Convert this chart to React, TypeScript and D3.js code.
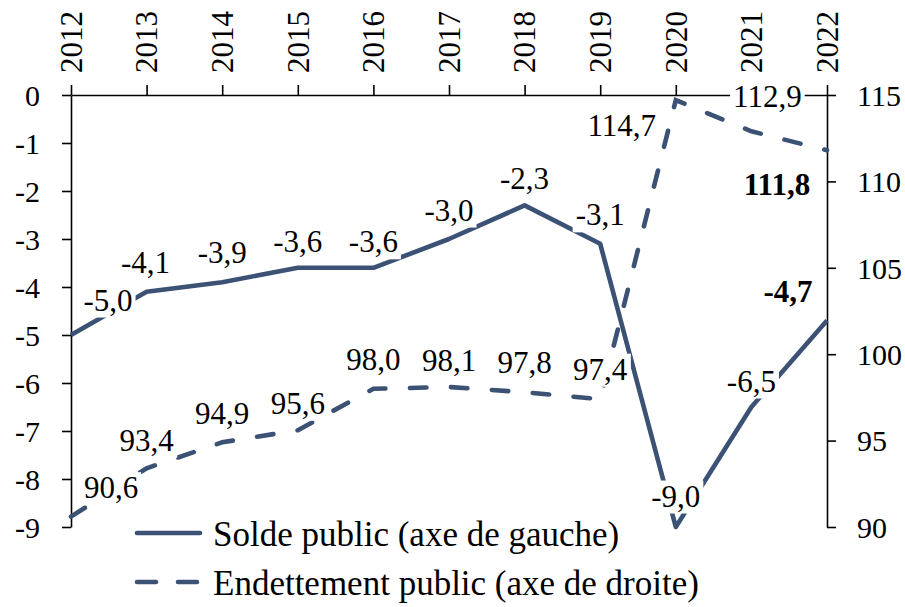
import React, { useEffect, useRef } from "react";
import * as d3 from "d3";

const years = ["2012", "2013", "2014", "2015", "2016", "2017", "2018", "2019", "2020", "2021", "2022"];
const solde = [-5.0, -4.1, -3.9, -3.6, -3.6, -3.0, -2.3, -3.1, -9.0, -6.5, -4.7];
const dette = [90.6, 93.4, 94.9, 95.6, 98.0, 98.1, 97.8, 97.4, 114.7, 112.9, 111.8];
const leftTicks = [0, -1, -2, -3, -4, -5, -6, -7, -8, -9];
const rightTicks = [90, 95, 100, 105, 110, 115];
const legendLabels = ["Solde public (axe de gauche)", "Endettement public (axe de droite)"];

// label offsets (layout only)
const soldeOffsets: [number, number][] = [
  [37, -35], [-1, -29], [0, -30], [0, -26], [0, -26], [0, -29], [0, -27], [0, -29], [0, -31], [0, -26], [-39, -29],
];
const detteOffsets: [number, number][] = [
  [40, -29], [0, -28], [0, -29], [0, -27], [0, -29], [0, -27], [0, -30], [0, -30], [-54, 25], [16, -35], [-50, 34],
];

const COLOR = "#3B5275";
const FONT = "'Liberation Serif', 'Times New Roman', serif";
const fmt = (v: number) => v.toFixed(1).replace(".", ",");

export default function App() {
  const ref = useRef<SVGSVGElement>(null);
  useEffect(() => {
    const svg = d3.select(ref.current);
    svg.selectAll("*").remove();
    const x = d3.scalePoint<string>().domain(years).range([71, 827]);
    const yL = d3.scaleLinear().domain([-9, 0]).range([527, 95]);
    const yR = d3.scaleLinear().domain([90, 115]).range([527, 95]);

    const axisStyle = (g: any) => {
      g.selectAll("path").attr("stroke", "#000").attr("stroke-width", 1.6);
      g.selectAll("line").attr("stroke", "#000").attr("stroke-width", 1.6);
      g.selectAll("text").attr("font-family", FONT).attr("font-size", 30).attr("fill", "#000");
    };

    // top x axis
    const gx = svg.append("g").attr("transform", `translate(0,${yL(0)})`)
      .call(d3.axisTop(x).tickSize(10).tickSizeOuter(0).tickFormat(() => ""));
    axisStyle(gx);
    gx.selectAll(".tick").each(function (d: any) {
      d3.select(this).append("text")
        .attr("transform", `translate(0,-22) rotate(-90)`)
        .attr("text-anchor", "start")
        .attr("dy", "0.33em")
        .attr("font-family", FONT).attr("font-size", 31).attr("fill", "#000")
        .text(d);
    });

    const gl = svg.append("g").attr("transform", `translate(${x("2012")},0)`)
      .call(d3.axisLeft(yL).tickValues(leftTicks).tickSize(9).tickSizeOuter(0).tickPadding(22).tickFormat((d: any) => String(d)));
    axisStyle(gl);
    gl.selectAll("text").attr("dy", "0.34em");

    const gr = svg.append("g").attr("transform", `translate(${x("2022")},0)`)
      .call(d3.axisRight(yR).tickValues(rightTicks).tickSize(9).tickSizeOuter(0).tickPadding(21).tickFormat((d: any) => String(d)));
    axisStyle(gr);
    gr.selectAll("text").attr("dy", "0.34em");

    const lineL = d3.line<number>().x((_, i) => x(years[i])!).y((d) => yL(d));
    const lineR = d3.line<number>().x((_, i) => x(years[i])!).y((d) => yR(d));

    svg.append("path").datum(dette).attr("d", lineR).attr("fill", "none")
      .attr("stroke", COLOR).attr("stroke-width", 4.6).attr("stroke-linecap", "round")
      .attr("stroke-dasharray", "16.5 24.5");
    svg.append("path").datum(solde).attr("d", lineL).attr("fill", "none")
      .attr("stroke", COLOR).attr("stroke-width", 4.6).attr("stroke-linejoin", "round");

    const addLabel = (cx: number, cy: number, txt: string, bold: boolean) => {
      const g = svg.append("g");
      const rect = g.append("rect").attr("fill", "#fff");
      const t = g.append("text").attr("x", cx).attr("y", cy).attr("dy", "0.34em")
        .attr("text-anchor", "middle").attr("font-family", FONT).attr("font-size", 31)
        .attr("font-weight", bold ? "bold" : "normal").attr("fill", "#000").text(txt);
      const bb = (t.node() as SVGTextElement).getBBox();
      rect.attr("x", bb.x - 3).attr("y", bb.y + 2).attr("width", bb.width + 6).attr("height", bb.height - 2);
    };

    solde.forEach((v, i) => {
      const [dx, dy] = soldeOffsets[i];
      addLabel(x(years[i])! + dx, yL(v) + dy, fmt(v), i === solde.length - 1);
    });
    dette.forEach((v, i) => {
      const [dx, dy] = detteOffsets[i];
      addLabel(x(years[i])! + dx, yR(v) + dy, fmt(v), i === dette.length - 1);
    });

    // legend
    const lg = svg.append("g");
    const rows = [533, 582];
    rows.forEach((ry, i) => {
      lg.append("line").attr("x1", 137).attr("x2", 200).attr("y1", ry).attr("y2", ry)
        .attr("stroke", COLOR).attr("stroke-width", 4.6).attr("stroke-linecap", "round")
        .attr("stroke-dasharray", i === 1 ? "19 22" : null);
      lg.append("text").attr("x", 213).attr("y", ry).attr("dy", "0.38em")
        .attr("font-family", FONT).attr("font-size", 35).attr("fill", "#000").text(legendLabels[i]);
    });
  }, []);
  return (
    <svg ref={ref} width={905} height={607} style={{ position: "absolute", left: 0, top: 0, background: "#fff" }} />
  );
}
